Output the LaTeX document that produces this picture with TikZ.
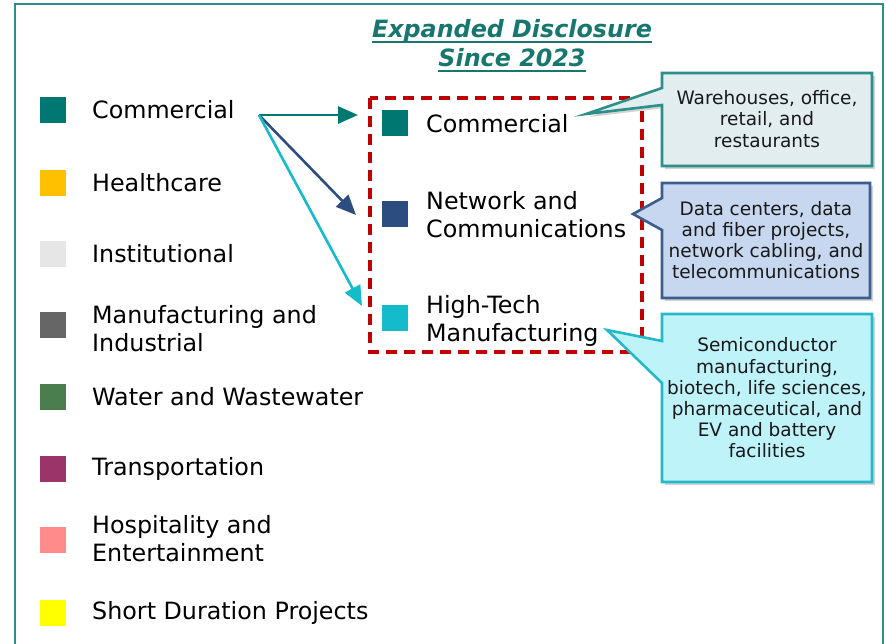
\documentclass[tikz,border=0pt]{standalone}
\usepackage{fontspec}
\setmainfont{DejaVu Sans}
\usetikzlibrary{arrows.meta,shadows}
\definecolor{frameteal}{HTML}{2E8E89}
\definecolor{titleteal}{HTML}{17776F}
\definecolor{cteal}{HTML}{007872}
\definecolor{cnavy}{HTML}{2B4D80}
\definecolor{ccyan}{HTML}{14BCCB}
\definecolor{chealth}{HTML}{FFC000}
\definecolor{cinst}{HTML}{E6E6E6}
\definecolor{cmanu}{HTML}{666666}
\definecolor{cwater}{HTML}{4A7E4E}
\definecolor{ctrans}{HTML}{9B3468}
\definecolor{chosp}{HTML}{FF8B8B}
\definecolor{cshort}{HTML}{FFFF00}
\definecolor{cred}{HTML}{C00000}
\definecolor{fillA}{HTML}{E1EDEE}
\definecolor{fillB}{HTML}{C7D7EF}
\definecolor{fillC}{HTML}{BFF3FA}
\definecolor{lineB}{HTML}{3B5E8C}
\definecolor{lineC}{HTML}{25B8C9}
\tikzset{
  sq/.style={minimum width=26pt,minimum height=26pt,inner sep=0pt,draw=none},
  lab/.style={anchor=west,align=left,inner sep=0pt,font=\fontsize{23.8}{28}\selectfont,text=black},
  ctext/.style={align=center,inner sep=0pt,font=\fontsize{18.5}{21.2}\selectfont,text=black!90},
  callout/.style={line width=2.6pt,drop shadow={shadow xshift=3pt,shadow yshift=-3pt,opacity=0.35}},
  arr/.style={line width=2.6pt,-{Triangle[length=20pt,width=17pt]}},
  ttl/.style={text=titleteal,font=\fontsize{23.8}{29}\selectfont\bfseries\itshape,inner sep=0pt,anchor=base}
}
\begin{document}
\begin{tikzpicture}[x=1pt,y=-1pt]
\useasboundingbox (0,0) rectangle (886,643);
\draw[frameteal,line width=2.8pt] (15,660) -- (15,4) -- (883,4) -- (883,660);
% title
\node[ttl] (title1) at (512,37) {Expanded Disclosure};
\node[ttl] (title2) at (512,66) {Since 2023};
\draw[titleteal,line width=2.4pt] ([yshift=-5pt]title1.base west) -- ([yshift=-5pt]title1.base east);
\draw[titleteal,line width=2.4pt] ([yshift=-5pt]title2.base west) -- ([yshift=-5pt]title2.base east);
% legend
\foreach \y/\c/\n in {110/cteal/l1,183/chealth/l2,254/cinst/l3,325/cmanu/l4,397/cwater/l5,469/ctrans/l6,540/chosp/l7,613/cshort/l8}{
  \node[sq,fill=\c] (s\n) at (53,\y) {};
}
\foreach \y/\t/\n in {110/Commercial/l1,183/Healthcare/l2,254/Institutional/l3,
  329/{Manufacturing and\\Industrial}/l4,397/Water and Wastewater/l5,469/Transportation/l6,
  539/{Hospitality and\\Entertainment}/l7,613/Short Duration Projects/l8}{
  \node[lab] (t\n) at (92,\y) {\t};
}
% dashed box
\draw[cred,line width=3.4pt,dash pattern=on 11pt off 7pt] (370,98) rectangle (642,352);
\node[sq,fill=cteal] (i1) at (395,123) {};
\node[lab] (ti1) at (426,124) {Commercial};
\node[sq,fill=cnavy] (i2) at (395,214) {};
\node[lab] (ti2) at (426,215) {Network and\\Communications};
\node[sq,fill=ccyan] (i3) at (395,318) {};
\node[lab] (ti3) at (426,321) {High-Tech\\Manufacturing};
% arrows
\coordinate (src) at (259,115);
\coordinate (e1) at (358,115);
\coordinate (e2) at (356,215);
\coordinate (e3) at (362,306);
\draw[arr,cteal] (src) -- (e1);
\draw[arr,cnavy] (src) -- (e2);
\draw[arr,ccyan] (src) -- (e3);
% callouts
\coordinate (p1) at (586,114);
\draw[callout,draw=frameteal,fill=fillA] (662,73) -- (872,73) -- (872,166) -- (662,166) -- (662,105) -- (p1) -- (662,88) -- cycle;
\node[ctext] (c1) at (767,119) {Warehouses, office,\\retail, and\\restaurants};
\coordinate (p2) at (633,214);
\draw[callout,draw=lineB,fill=fillB] (662,183) -- (870,183) -- (870,298) -- (662,298) -- (662,230) -- (p2) -- (662,198) -- cycle;
\node[ctext] (c2) at (766,240) {Data centers, data\\and fiber projects,\\network cabling, and\\telecommunications};
\coordinate (p3) at (607,330);
\draw[callout,draw=lineC,fill=fillC] (662,314) -- (872,314) -- (872,482) -- (662,482) -- (662,383) -- (p3) -- (662,341) -- cycle;
\node[ctext] (c3) at (767,398) {Semiconductor\\manufacturing,\\biotech, life sciences,\\pharmaceutical, and\\EV and battery\\facilities};
\end{tikzpicture}
\end{document}
